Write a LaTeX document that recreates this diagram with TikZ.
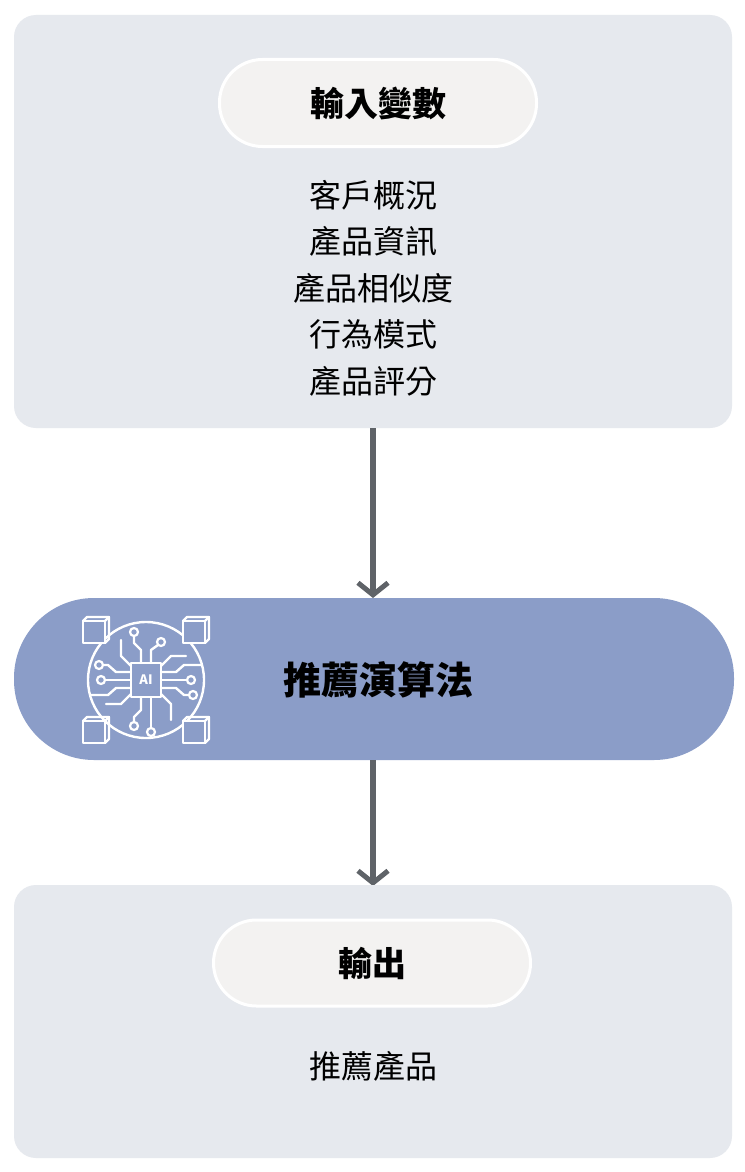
\documentclass[tikz,border=0pt]{standalone}
\usepackage{fontspec}
\setmainfont{Noto Sans CJK TC}
\begin{document}
\begin{tikzpicture}[x=1pt,y=-1pt,
 panel/.style={fill=panelc,draw=none,rounded corners=22pt},
 pill/.style={fill=pillc,draw=white,line width=3pt,rounded corners=43pt},
 arr/.style={draw=arrc,line width=6pt,-{Straight Barb[length=12pt,width=30pt,line width=5pt]}},
 ic/.style={draw=white,line width=2.4pt,line cap=round,line join=round},
 dot/.style={draw=white,line width=2.2pt,fill=midc}]
\usetikzlibrary{arrows.meta}
\definecolor{panelc}{HTML}{E6E9EE}
\definecolor{pillc}{HTML}{F3F2F1}
\definecolor{midc}{HTML}{8B9DC8}
\definecolor{arrc}{HTML}{5F6368}
\useasboundingbox (0,0) rectangle (744,1172);
\fill[white] (0,0) rectangle (744,1172);
\draw[panel] (14,15) rectangle (732,428);
\node[pill,minimum width=317pt,minimum height=87pt] (in) at (378,103) {};
\node[font=\bfseries\fontsize{34}{34}\selectfont] (inT) at (in) {輸入變數};
\node[align=center,font=\fontsize{32}{46.5}\selectfont] (vars) at (373,288) {客戶概況\\產品資訊\\產品相似度\\行為模式\\產品評分};
\draw[fill=midc,draw=none,rounded corners=80pt] (14,598) rectangle (734,760);
\node[font=\bfseries\fontsize{38}{38}\selectfont] (alg) at (378,680) {推薦演算法};
\coordinate (algT) at (373,598);
\coordinate (algB) at (373,760);
\coordinate (topB) at (373,428);
\coordinate (botT) at (373,886);
\draw[arr] (topB) -- (algT);
\draw[arr] (algB) -- (botT);
\draw[panel] (14,885) rectangle (732,1158);
\node[pill,minimum width=317pt,minimum height=86pt] (out) at (372,963) {};
\node[font=\bfseries\fontsize{34}{34}\selectfont] (outT) at (out) {輸出};
\node[font=\fontsize{32}{32}\selectfont] (prod) at (373,1066) {推薦產品};
% icon
\begin{scope}[shift={(146,680)}]
\draw[ic] (0,0) circle (58);
\draw[ic,fill=midc] (-15,-17) rectangle (15,17);
\node[white,font=\bfseries\fontsize{13}{13}\selectfont] (ai) at (0,0) {AI};
\foreach \sx in {-1,1}{\foreach \sy in {-1,1}{
 \begin{scope}[shift={(\sx*50,\sy*50)}]
 \draw[ic,fill=midc] (-13,-9) rectangle (9,13);
 \draw[ic] (-13,-9) -- (-9,-13) -- (13,-13) -- (13,9) -- (9,13);
 \draw[ic] (9,-9) -- (13,-13);
 \end{scope}}}
\draw[ic] (-5,-17) -- (-5,-30) -- (-12,-37) -- (-12,-44);
\draw[dot] (-12,-48) circle (4);
\draw[ic] (5,-17) -- (5,-30) -- (12,-35);
\draw[dot] (15,-38) circle (4);
\draw[ic] (-15,-8) -- (-30,-8) -- (-38,-15) -- (-42,-15);
\draw[dot] (-47,-15) circle (4);
\draw[ic] (-15,0) -- (-40,0);
\draw[dot] (-45,0) circle (4);
\draw[ic] (-15,8) -- (-30,8) -- (-38,15) -- (-55,15);
\draw[ic] (15,-8) -- (30,-8) -- (38,-15) -- (55,-15);
\draw[ic] (15,0) -- (40,0);
\draw[dot] (45,0) circle (4);
\draw[ic] (15,8) -- (30,8) -- (38,15) -- (42,15);
\draw[dot] (47,15) circle (4);
\draw[ic] (-5,17) -- (-5,30) -- (-12,37) -- (-12,42);
\draw[dot] (-12,46) circle (4);
\draw[ic] (5,17) -- (5,48);
\draw[dot] (5,52) circle (4);
\draw[ic] (-15,-14) -- (-25,-24) -- (-25,-40);
\draw[ic] (15,14) -- (25,24) -- (25,40);
\draw[ic] (15,-14) -- (25,-24) -- (40,-24);
\draw[ic] (-15,14) -- (-25,24) -- (-40,24);
\end{scope}
\end{tikzpicture}
\end{document}
